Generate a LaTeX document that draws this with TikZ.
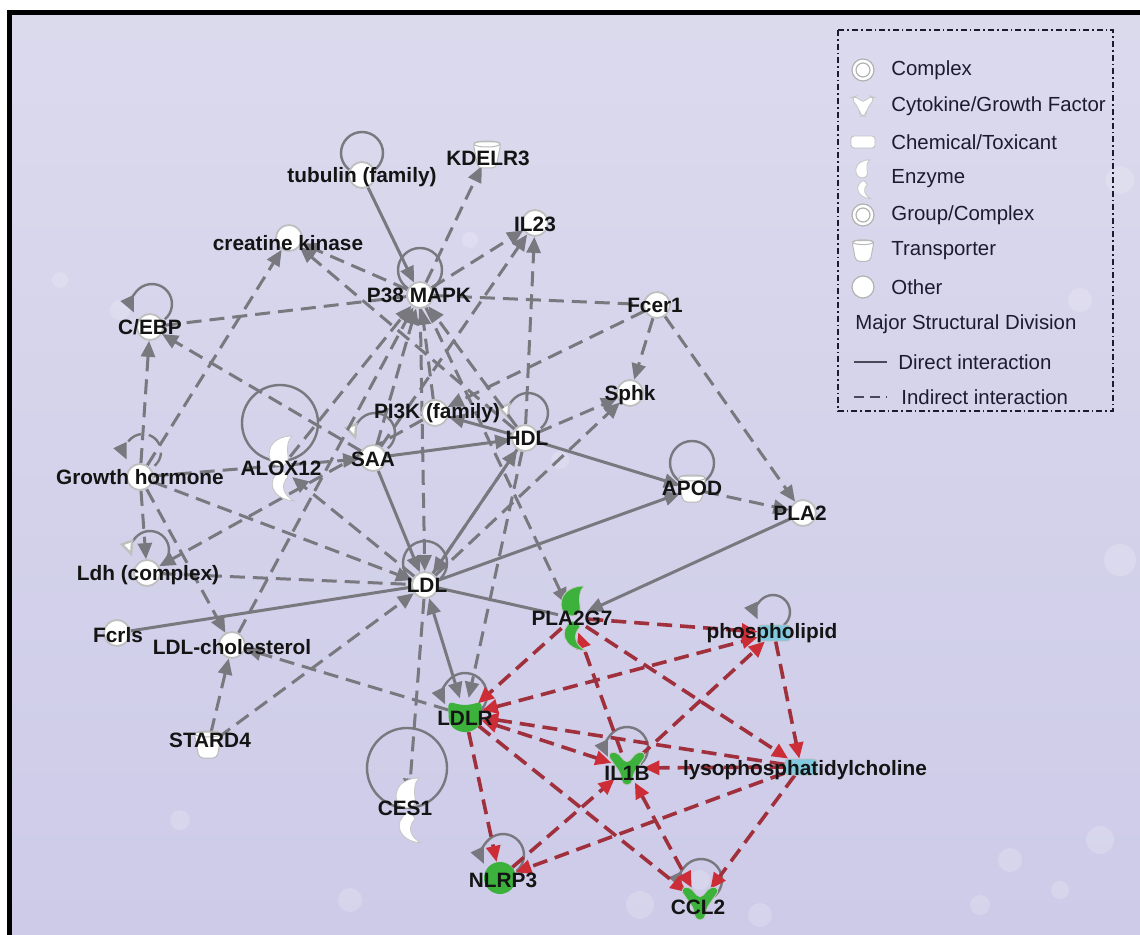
\documentclass[tikz,border=0pt]{standalone}
\usepackage{fontspec}
\setmainfont{Liberation Sans}
\usetikzlibrary{arrows.meta}
\pgfdeclarelayer{bg}
\pgfdeclarelayer{edges}
\pgfsetlayers{bg,edges,main}
\definecolor{gline}{RGB}{120,120,126}
\definecolor{rline}{RGB}{160,48,60}
\definecolor{rtip}{RGB}{205,45,55}
\definecolor{ngreen}{RGB}{60,178,60}
\definecolor{ncyan}{RGB}{130,200,222}
\definecolor{legtxt}{RGB}{28,28,48}
\definecolor{bgtop}{RGB}{219,218,237}
\definecolor{bgmid}{RGB}{198,196,227}
\definecolor{bgbot}{RGB}{205,203,232}
\tikzset{
 pics/enzyme/.style={code={
   \path[fill=#1,draw=gray!45,line width=0.4pt] (-1,-2) .. controls (-15,-2) and (-15,-22) .. (-4,-28) .. controls (1,-31) and (6,-32) .. (11,-32) .. controls (6,-27) and (6,-20) .. (7,-12) .. controls (8,-5) and (4,-2) .. (-1,-2) -- cycle;
   \path[fill=#1,draw=gray!45,line width=0.4pt] (-1,3) .. controls (-15,12) and (-10,31) .. (13,33) .. controls (2,27) and (-1,17) .. (7,9) .. controls (5,4) and (2,3) .. (-1,3) -- cycle;
 }},
 pics/cytokine/.style={code={
   \path[fill=#1,draw=gray!45,line width=0.4pt,rounded corners=2.5pt] (-20,-14) -- (-11,-17) -- (0,-4) -- (11,-17) -- (20,-14) -- (6,6) -- (5,17) -- (-5,17) -- (-6,6) -- cycle;
 }},
 pics/transporter/.style={code={
   \path[fill=white,draw=gray!55,line width=0.5pt,rounded corners=2pt] (-14,-13) -- (14,-13) -- (9,13) -- (-9,13) -- cycle;
   \draw[gray!55,line width=0.5pt] (0,-11) ellipse[x radius=13,y radius=3];
 }},
 pics/receptor/.style={code={
   \path[fill=#1,rounded corners=3pt] (-17,-14) -- (-6,-10) -- (6,-10) -- (17,-14) -- (16,9) -- (7,17) -- (-7,17) -- (-16,9) -- cycle;
 }},
 pics/chem/.style={code={
   \path[fill=#1,draw=gray!50,line width=0.4pt,rounded corners=1.5pt] (-16,-8) rectangle (16,8);
 }},
}
\begin{document}
\begin{tikzpicture}[x=0.5pt,y=-0.5pt,
  oth/.style={circle,minimum size=13pt,inner sep=0pt,fill=white,draw=gray!50,line width=0.9pt},
  hub/.style={circle,minimum size=#1,inner sep=0pt},
  lab/.style={font=\bfseries\fontsize{10.4}{12}\selectfont,text=black!92,inner sep=0pt},
  leg/.style={font=\fontsize{10.2}{12}\selectfont,text=legtxt,anchor=west,inner sep=0pt},
  gs/.style={draw=gline,line width=1.5pt},
  gd/.style={draw=gline,line width=1.5pt,dash pattern=on 7.5pt off 4pt},
  rd/.style={draw=rline,line width=1.8pt,dash pattern=on 7.5pt off 4pt},
  lp/.style={draw=gline,line width=1.2pt},
  gto/.style={-{Triangle[length=8pt,width=7pt]}},
  gboth/.style={{Triangle[length=8pt,width=7pt]}-{Triangle[length=8pt,width=7pt]}},
  rto/.style={-{Triangle[length=8pt,width=7pt,color=rtip]}},
  rboth/.style={{Triangle[length=8pt,width=7pt,color=rtip]}-{Triangle[length=8pt,width=7pt,color=rtip]}},
  wto/.style={-{Triangle[length=8pt,width=7pt,color=gray!50,fill=white]}},
]
\useasboundingbox (0,0) rectangle (1140,935);
% background
\begin{pgfonlayer}{bg}
\fill[white] (0,0) rectangle (1140,935);
\shade[top color=bgtop,middle color=bgmid,bottom color=bgbot] (10,12) rectangle (1140,935);
\foreach \bx/\by/\br in {640/905/14,700/880/10,760/915/12,1010/860/12,1060/890/9,1100/840/14,980/905/10,1120/560/16,1080/300/12,1120/180/14,560/460/9,470/240/8,120/310/10,60/280/8,180/820/10,350/900/12}
  {\fill[white,opacity=0.18] (\bx,\by) circle[radius=\br];}
\draw[line width=2.6pt] (9.5,935) -- (9.5,12.5) -- (1140,12.5);
\end{pgfonlayer}

% glyph nodes
\node[oth] (tub) at (362,175) {};
\node[hub=12pt] (kdel) at (487,155) {};
\node[oth] (il23) at (535,223) {};
\node[oth] (ck) at (289,238) {};
\node[oth] (p38) at (420,295) {};
\node[oth] (cebp) at (150,327) {};
\node[oth] (fcer) at (657,305) {};
\node[oth] (sphk) at (630,393) {};
\node[oth] (pi3k) at (435,413) {};
\node[oth] (hdl) at (525,438) {};
\node[oth] (saa) at (373,458) {};
\node[hub=14pt] (alox) at (281,468) {};
\node[oth] (gh) at (140,477) {};
\node[hub=12pt] (apod) at (692,489) {};
\node[oth] (pla2) at (803,513) {};
\node[oth] (ldh) at (147,573) {};
\node[oth] (ldl) at (425,585) {};
\node[oth] (fcrls) at (117,633) {};
\node[oth] (ldlc) at (232,645) {};
\node[hub=15pt] (pla2g7) at (573,618) {};
\node[rectangle,minimum width=16pt,minimum height=8pt,inner sep=0pt] (phos) at (774,633) {};
\node[hub=17pt] (ldlr) at (465,715) {};
\node[hub=12pt] (stard4) at (208,745) {};
\node[hub=16pt] (il1b) at (627,768) {};
\node[rectangle,minimum width=16pt,minimum height=8pt,inner sep=0pt] (lyso) at (801,767) {};
\node[hub=15pt] (ces1) at (408,810) {};
\node[circle,minimum size=16pt,inner sep=0pt,fill=ngreen] (nlrp3) at (500,878) {};
\node[hub=17pt] (ccl2) at (700,903) {};

\pic at (kdel) {transporter};
\pic at (apod) {transporter};
\pic at (stard4) {transporter};
\pic at (alox) {enzyme=white};
\pic at (ces1) {enzyme=white};
\pic at (pla2g7) {enzyme=ngreen};
\pic at (phos) {chem=ncyan};
\pic at (lyso) {chem=ncyan};
\pic at (ldlr) {receptor=ngreen};
\pic at (il1b) {cytokine=ngreen};
\pic at (ccl2) {cytokine=ngreen};

\begin{pgfonlayer}{edges}
% self loops
\draw[lp] (362,153) circle[radius=21];
\draw[lp] (420,270) circle[radius=22];
\draw[lp,gto] ([shift={(50:20)}]152,304) arc[start angle=50,end angle=-205,radius=20];
\draw[lp,wto] ([shift={(50:20)}]375,433) arc[start angle=50,end angle=-200,radius=20];
\draw[lp,wto] ([shift={(50:20)}]528,413) arc[start angle=50,end angle=-200,radius=20];
\draw[lp] (280,423) circle[radius=38];
\draw[gd,line width=1.2pt,gto] ([shift={(50:18)}]143,452) arc[start angle=50,end angle=-205,radius=18];
\draw[lp,wto] ([shift={(50:19)}]150,550) arc[start angle=50,end angle=-200,radius=19];
\draw[lp] (425,563) circle[radius=22];
\draw[lp] (692,463) circle[radius=22];
\draw[lp,gto] ([shift={(50:17)}]773,612) arc[start angle=50,end angle=-205,radius=17];
\draw[lp,gto] ([shift={(50:22)}]465,695) arc[start angle=50,end angle=-205,radius=22];
\draw[lp,gto] ([shift={(50:21)}]627,748) arc[start angle=50,end angle=-205,radius=21];
\draw[lp,gto] ([shift={(50:21)}]503,855) arc[start angle=50,end angle=-205,radius=21];
\draw[lp,gto] ([shift={(50:21)}]701,880) arc[start angle=50,end angle=-205,radius=21];
\draw[lp] (407,768) circle[radius=40];
% grey direct
\draw[gs,gto] (tub) -- (p38);
\draw[gs,gto] (saa) -- (hdl);
\draw[gs,gto] (saa) -- (ldl);
\draw[gs] (fcrls) -- (ldl);
\draw[gs,gto] (ldl) -- (apod);
\draw[gs,gto] (hdl) -- (apod);
\draw[gs,gto] (ldl) -- (hdl);
\draw[gs,gto] (hdl) -- (pi3k);
\draw[gs,gboth] (ldl) -- (ldlr);
\draw[gs] (ldl) -- (pla2g7);
\draw[gs,gto] (pla2) -- (pla2g7);
% grey indirect
\draw[gd,gto] (p38) -- (kdel);
\draw[gd,gto] (p38) -- (il23);
\draw[gd,gto] (p38) -- (ck);
\draw[gd,gto] (hdl) -- (ck);
\draw[gd] (cebp) -- (p38);
\draw[gd] (p38) -- (fcer);
\draw[gd,gto] (fcer) -- (sphk);
\draw[gd,gto] (fcer) -- (pi3k);
\draw[gd,gto] (fcer) -- (pla2);
\draw[gd,gto] (hdl) -- (sphk);
\draw[gd,gto] (ldl) -- (sphk);
\draw[gd,gto] (p38) -- (ldl);
\draw[gd,gto] (ldl) -- (ces1);
\draw[gd,gto] (gh) -- (cebp);
\draw[gd,gto] (gh) -- (ck);
\draw[gd,gto] (gh) -- (saa);
\draw[gd,gto] (gh) -- (ldl);
\draw[gd,gto] (gh) -- (ldh);
\draw[gd,gto] (gh) -- (ldlc);
\draw[gd,gto] (saa) -- (cebp);
\draw[gd,gto] (pi3k) -- (ldh);
\draw[gd,gto] (ldl) -- (alox);
\draw[gd] (ldh) -- (ldl);
\draw[gd,gto] (ldlr) -- (ldlc);
\draw[gd,gto] (stard4) -- (ldlc);
\draw[gd,gto] (stard4) -- (ldl);
\draw[gd,gto] (ldlc) -- (p38);
\draw[gd,gto] (alox) -- (p38);
\draw[gd,gto] (saa) -- (p38);
\draw[gd,gto] (pi3k) -- (p38);
\draw[gd,gto] (hdl) -- (p38);
\draw[gd,gto] (hdl) -- (il23);
\draw[gd,gto] (saa) -- (il23);
\draw[gd,gto] (hdl) -- (ldl);
\draw[gd,gto] (hdl) -- (ldlr);
\draw[gd,gto] (p38) -- (pla2g7);
\draw[gd,gto] (apod) -- (pla2);
% red indirect
\draw[rd,rto] (pla2g7) -- (ldlr);
\draw[rd,rto] (pla2g7) -- (phos);
\draw[rd,rto] (pla2g7) -- (lyso);
\draw[rd,rto] (il1b) -- (pla2g7);
\draw[rd,rboth] (ldlr) -- (phos);
\draw[rd,rto] (phos) -- (lyso);
\draw[rd,rto] (il1b) -- (phos);
\draw[rd,rto] (lyso) -- (ldlr);
\draw[rd,rto] (lyso) -- (il1b);
\draw[rd,rboth] (ldlr) -- (il1b);
\draw[rd,rto] (ldlr) -- (nlrp3);
\draw[rd,rto] (ldlr) -- (ccl2);
\draw[rd,rto] (nlrp3) -- (il1b);
\draw[rd,rto] (lyso) -- (nlrp3);
\draw[rd,rboth] (il1b) -- (ccl2);
\draw[rd,rto] (lyso) -- (ccl2);
\end{pgfonlayer}

% labels
\node[lab] (tub-l) at (362,177) {tubulin (family)};
\node[lab] (kdel-l) at (488,158) {KDELR3};
\node[lab] (il23-l) at (535,224) {IL23};
\node[lab] (ck-l) at (288,243) {creatine kinase};
\node[lab] (p38-l) at (419,295) {P38 MAPK};
\node[lab] (cebp-l) at (150,327) {C/EBP};
\node[lab] (fcer-l) at (655,305) {Fcer1};
\node[lab] (sphk-l) at (630,395) {Sphk};
\node[lab] (pi3k-l) at (437,413) {PI3K (family)};
\node[lab] (hdl-l) at (527,438) {HDL};
\node[lab] (saa-l) at (373,459) {SAA};
\node[lab] (alox-l) at (281,468) {ALOX12};
\node[lab] (gh-l) at (140,477) {Growth hormone};
\node[lab] (apod-l) at (692,488) {APOD};
\node[lab] (pla2-l) at (800,513) {PLA2};
\node[lab] (ldh-l) at (148,575) {Ldh (complex)};
\node[lab] (ldl-l) at (427,585) {LDL};
\node[lab] (fcrls-l) at (118,635) {Fcrls};
\node[lab] (ldlc-l) at (232,647) {LDL-cholesterol};
\node[lab] (pla2g7-l) at (572,618) {PLA2G7};
\node[lab] (phos-l) at (772,633) {phospholipid};
\node[lab] (ldlr-l) at (465,718) {LDLR};
\node[lab] (stard4-l) at (210,740) {STARD4};
\node[lab] (il1b-l) at (627,773) {IL1B};
\node[lab] (lyso-l) at (805,770) {lysophosphatidylcholine};
\node[lab] (ces1-l) at (405,808) {CES1};
\node[lab] (nlrp3-l) at (503,880) {NLRP3};
\node[lab] (ccl2-l) at (698,907) {CCL2};

% legend
\draw[legtxt,line width=0.6pt,dash pattern=on 3pt off 1.5pt on 0.8pt off 1.5pt] (838,30) rectangle (1113,411);
\draw[gray!60,fill=white,line width=0.6pt] (863,70) circle[radius=11];
\draw[gray!60,line width=0.6pt] (863,70) circle[radius=7];
\pic[scale=0.6] at (863,106) {cytokine=white};
\pic[scale=0.75] at (863,142) {chem=white};
\pic[scale=0.6] at (863,179) {enzyme=white};
\draw[gray!60,fill=white,line width=0.6pt] (863,215) circle[radius=11];
\draw[gray!60,line width=0.6pt] (863,215) circle[radius=7];
\pic[scale=0.8] at (863,251) {transporter};
\draw[gray!60,fill=white,line width=0.6pt] (863,287) circle[radius=11];
\node[leg] (lg1) at (891,70) {Complex};
\node[leg] (lg2) at (891,106) {Cytokine/Growth Factor};
\node[leg] (lg3) at (891,142) {Chemical/Toxicant};
\node[leg] (lg4) at (891,179) {Enzyme};
\node[leg] (lg5) at (891,215) {Group/Complex};
\node[leg] (lg6) at (891,251) {Transporter};
\node[leg] (lg7) at (891,287) {Other};
\node[leg] (lg8) at (855,324) {Major Structural Division};
\coordinate (dl1) at (854,362);
\coordinate (dl2) at (887,362);
\draw[legtxt!80,line width=1.1pt] (dl1) -- (dl2);
\node[leg] (lg9) at (898,362) {Direct interaction};
\coordinate (il1) at (854,397);
\coordinate (il2) at (887,397);
\draw[legtxt!80,line width=1.1pt,dash pattern=on 5pt off 3pt] (il1) -- (il2);
\node[leg] (lg10) at (901,397) {Indirect interaction};
\end{tikzpicture}
\end{document}
